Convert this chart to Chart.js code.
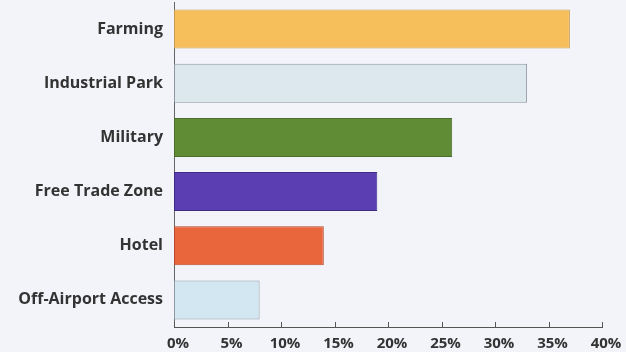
<!DOCTYPE html>
<html>
<head>
<meta charset="utf-8">
<script src="https://cdn.jsdelivr.net/npm/chart.js@4/dist/chart.umd.min.js"></script>
<style>
  html, body { margin: 0; padding: 0; background: #f3f4fa; }
  #wrap { width: 626px; height: 352px; }
</style>
</head>
<body>
<div id="wrap"><canvas id="chart"></canvas></div>
<script>
// data
let categories = ["Farming", "Industrial Park", "Military", "Free Trade Zone", "Hotel", "Off-Airport Access"]
let shares = [37, 33, 26, 19, 14, 8] // percent
let xTicks = [0, 5, 10, 15, 20, 25, 30, 35, 40]

// bar colours, one per category
let fills = ["#f7bf5b", "#dde8ee", "#5f8c35", "#5b3fb2", "#e9653c", "#d2e7f1"]
let edges = ["#c99a55", "#8e96a0", "#4a6d2c", "#3d2b86", "#b84a2c", "#8e9aa4"]

// short tick marks pointing up into the plot, like the original
let innerTicks = {
    id: "innerTicks",
    afterDraw(chart) {
        let ctx = chart.ctx
        let x = chart.scales.x
        let bottom = chart.chartArea.bottom
        ctx.save()
        ctx.strokeStyle = "#555"
        ctx.lineWidth = 1
        xTicks.forEach(function(v) {
            let px = Math.round(x.getPixelForValue(v)) + 0.5
            ctx.beginPath()
            ctx.moveTo(px, bottom - 5)
            ctx.lineTo(px, bottom + 1)
            ctx.stroke()
        })
        ctx.restore()
    }
}

let ctx = document.getElementById("chart").getContext("2d")
let chart = new Chart(ctx, {
    type: "bar",
    data: {
        labels: categories,
        datasets: [{
            data: shares,
            backgroundColor: fills,
            borderColor: edges,
            borderWidth: 1,
            borderSkipped: false,
            categoryPercentage: 1,
            barPercentage: 0.72
        }]
    },
    options: {
        indexAxis: "y",
        responsive: true,
        maintainAspectRatio: false,
        animation: false,
        layout: { padding: { top: 2, right: 24, left: 0, bottom: 0 } },
        plugins: {
            legend: { display: false },
            tooltip: { enabled: false }
        },
        scales: {
            x: {
                min: 0,
                max: 40,
                afterBuildTicks(scale) {
                    scale.ticks = xTicks.map(function(v) { return { value: v } })
                },
                afterFit(scale) {
                    scale.height = 25
                    scale.paddingLeft = 0
                    scale.paddingRight = 0
                },
                grid: { display: false, drawTicks: false },
                border: { display: true, color: "#555", width: 1 },
                ticks: {
                    padding: 8,
                    labelOffset: 4,
                    color: "#333",
                    font: { family: "Open Sans", size: 15, weight: "bold" },
                    callback: function(v) { return v + "%" }
                }
            },
            y: {
                afterFit(scale) {
                    scale.width = 174
                    scale.paddingTop = 0
                    scale.paddingBottom = 0
                },
                grid: { display: false, drawTicks: false },
                border: { display: true, color: "#666", width: 1 },
                ticks: {
                    padding: 11,
                    color: "#333",
                    font: { family: "Open Sans", size: 16, weight: "bold" }
                }
            }
        }
    },
    plugins: [innerTicks]
})
</script>
</body>
</html>
